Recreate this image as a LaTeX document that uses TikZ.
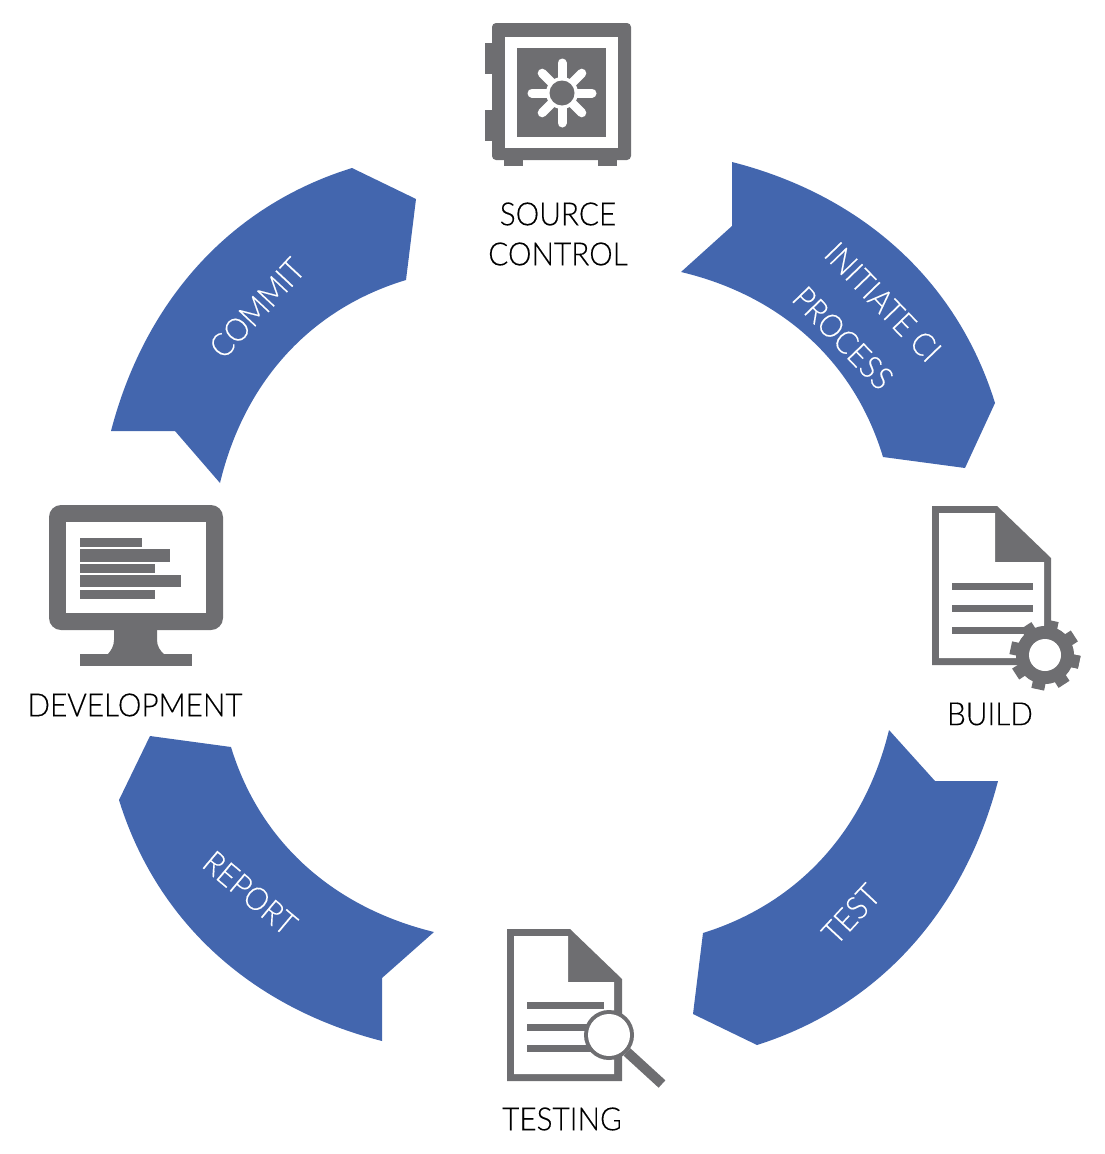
\documentclass[tikz,border=0pt]{standalone}
\usepackage{fontspec}
\setmainfont{Lato Light}[FakeStretch=0.93,FakeBold=0.25]
\definecolor{ringblue}{HTML}{4366AE}
\definecolor{icongray}{HTML}{6E6E71}
\tikzset{
  band/.style={fill=ringblue,draw=none},
  ic/.style={fill=icongray,draw=none},
  wh/.style={fill=white,draw=none},
  caption/.style={font=\fontsize{32}{36}\selectfont,text=black,inner sep=0pt,align=center},
  bandtext/.style={font=\fontsize{32}{36}\selectfont,text=white,inner sep=0pt}
}
\begin{document}
\begin{tikzpicture}[x=1pt,y=-1pt]
\useasboundingbox (0,0) rectangle (1104,1154);
% ---- bands
\fill[band] (732,162) .. controls (857.7,194) and (955.8,276.6) .. (995,403) -- (965,468) -- (883,457)
  .. controls (853.6,359.4) and (778.8,295.1) .. (681,272) -- (732,226) -- cycle;
\fill[band] (382,1041) .. controls (256.3,1009) and (158.2,926.4) .. (119,800) -- (150,736) -- (231,747)
  .. controls (260.4,843.6) and (335.2,907.9) .. (434,932) -- (382,978) -- cycle;
\fill[band] (998,781) .. controls (965.3,906.6) and (882.9,1005) .. (757,1045) -- (693,1014) -- (703,933)
  .. controls (800.4,902.7) and (865.3,828.1) .. (889,730) -- (935,781) -- cycle;
\fill[band] (111,431) .. controls (143.7,305.4) and (226.1,207) .. (352,168) -- (416,199) -- (406,280)
  .. controls (308.6,309.3) and (243.7,383.9) .. (220,483) -- (175,431) -- cycle;
% ---- band labels
\node[bandtext,rotate=47] (commit) at (257,308) {COMMIT};
\node[bandtext,rotate=-46] (initiate) at (883,302) {INITIATE CI};
\node[bandtext,rotate=-46] (process) at (843,338) {PROCESS};
\node[bandtext,rotate=47] (test) at (851,914) {TEST};
\node[bandtext,rotate=-40] (report) at (250,893) {REPORT};
% ---- vault
\fill[ic,rounded corners=4pt] (492,23) rectangle (631,160);
\fill[ic] (485,43) rectangle (494,74);
\fill[ic] (485,110) rectangle (494,141);
\fill[ic] (504,158) rectangle (523,166);
\fill[ic] (598,158) rectangle (617,166);
\fill[wh] (505,37) rectangle (618,148);
\fill[ic] (517,48) rectangle (606,137);
\coordinate (dial) at (562,93);
\foreach \a in {0,90,...,270}
  \draw[white,line width=9pt,line cap=round] (dial) -- ++(\a:30);
\foreach \a in {45,135,...,315}
  \draw[white,line width=9pt,line cap=round] (dial) -- ++(\a:28);
\fill[wh] (dial) circle (16pt);
\fill[ic] (dial) circle (12.5pt);
% ---- build document
\fill[ic] (932,506) -- (997,506) -- (1051,558) -- (1051,665) -- (932,665) -- cycle;
\fill[wh] (939,513) -- (995,513) -- (995,562) -- (1044,562) -- (1044,658) -- (939,658) -- cycle;
\fill[ic] (952,583) rectangle (1033,590);
\fill[ic] (952,605) rectangle (1033,612);
\fill[ic] (952,627) rectangle (1033,634);
\coordinate (gear) at (1045,655);
\fill[ic] (gear) circle (29pt);
\foreach \a in {12,57,...,372}
  \draw[icongray,line width=13pt] (gear) -- ++(\a:35);
\fill[wh] (gear) circle (16pt);
% ---- testing document
\fill[ic] (507,929) -- (570,929) -- (622,979) -- (622,1081) -- (507,1081) -- cycle;
\fill[wh] (514,936) -- (568,936) -- (568,982) -- (614,982) -- (614,1074) -- (514,1074) -- cycle;
\fill[ic] (527,1002) rectangle (604,1009);
\fill[ic] (527,1024) rectangle (604,1031);
\fill[ic] (527,1045) rectangle (604,1052);
\coordinate (lens) at (609,1035);
\coordinate (handle) at (662,1084);
\draw[icongray,line width=10pt] (627,1052) -- (handle);
\fill[ic] (lens) circle (25pt);
\fill[wh] (lens) circle (21pt);
% ---- monitor
\fill[ic] (114,628) -- (157,628) -- (157,640) .. controls (157,646) and (160,651) .. (165,655) -- (107,655) .. controls (111,651) and (114,646) .. (114,640) -- cycle;
\fill[ic] (80,654) rectangle (192,666);
\fill[ic,rounded corners=12pt] (49,505) rectangle (223,630);
\fill[wh] (66,522) rectangle (206,613);
\fill[ic] (80,538) rectangle (142,547);
\fill[ic] (80,549) rectangle (170,562);
\fill[ic] (80,564) rectangle (155,573);
\fill[ic] (80,575) rectangle (181,587);
\fill[ic] (80,590) rectangle (155,599);
% ---- captions
\node[caption] (source) at (558,214) {SOURCE};
\node[caption] (control) at (558,254) {CONTROL};
\node[caption] (build) at (990,714) {BUILD};
\node[caption] (testing) at (562,1119) {TESTING};
\node[caption] (development) at (135,705) {DEVELOPMENT};
\end{tikzpicture}
\end{document}
